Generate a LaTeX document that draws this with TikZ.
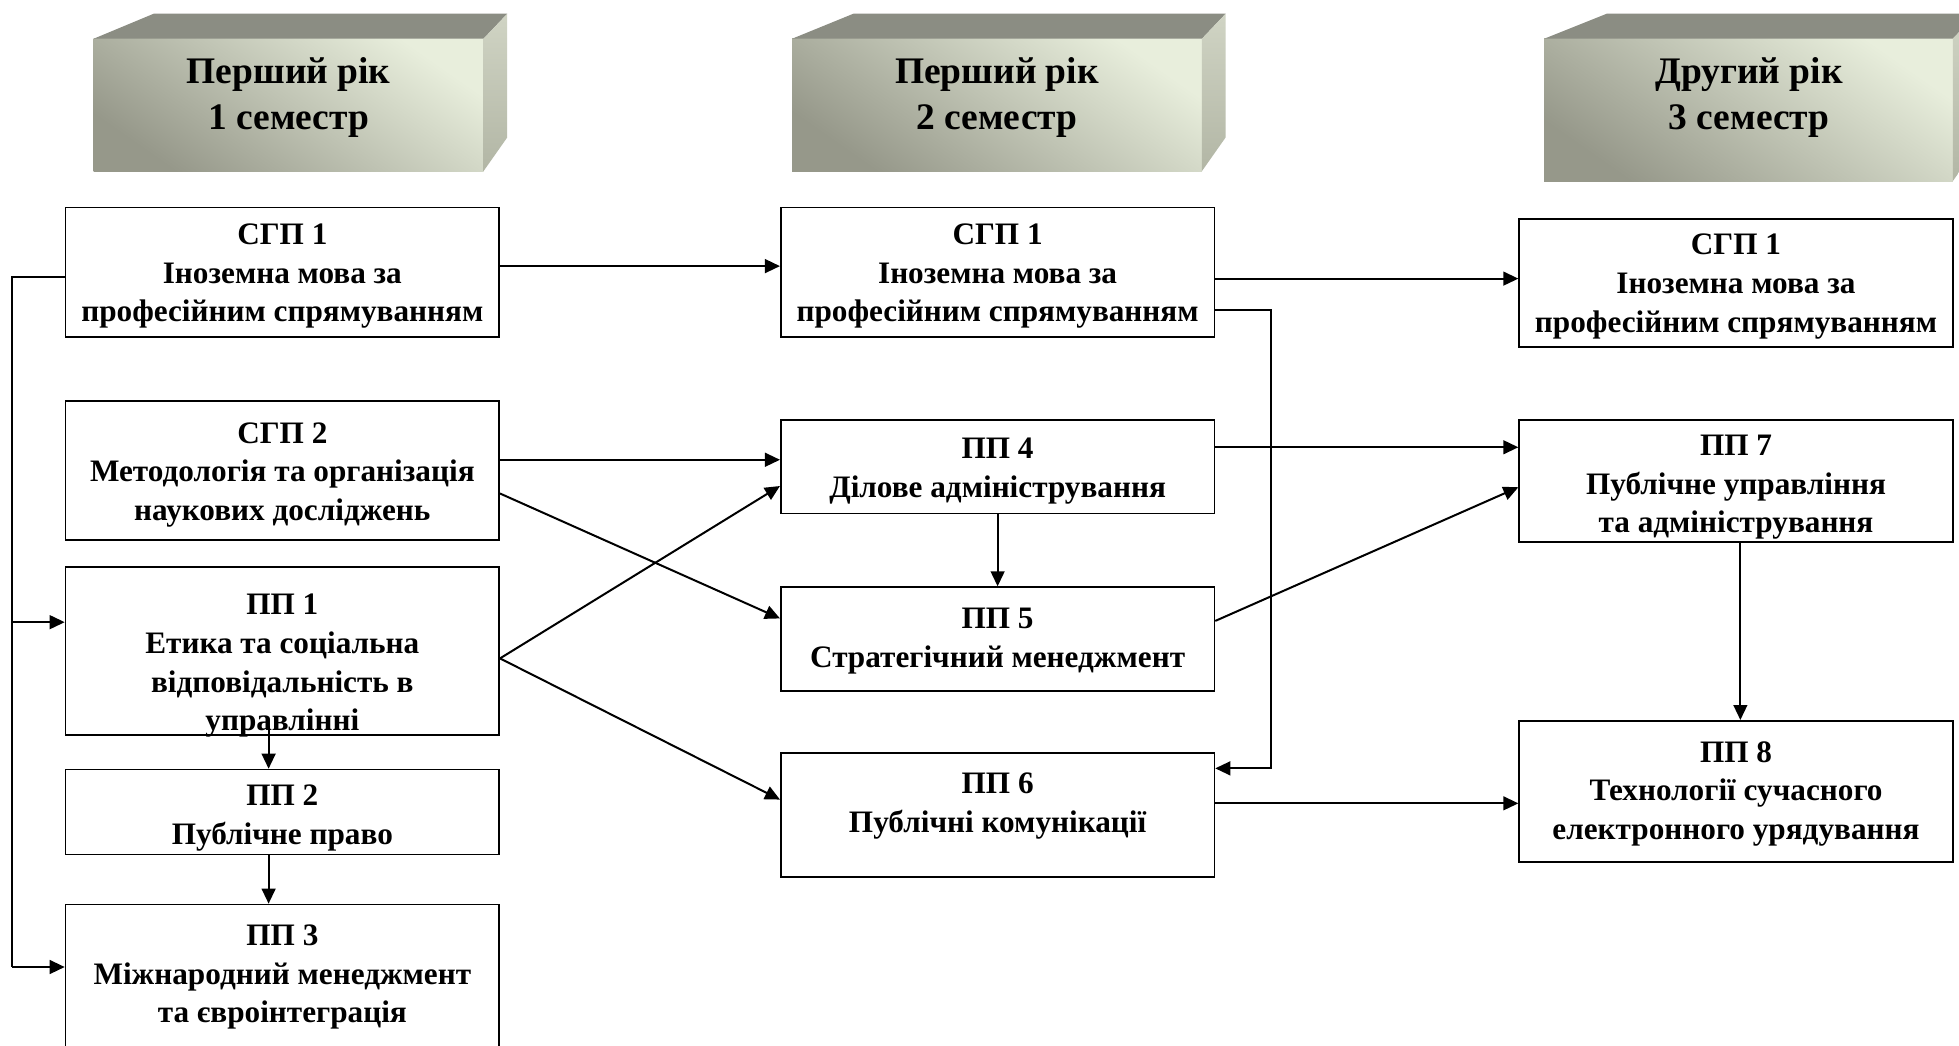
\documentclass[tikz,border=0pt]{standalone}
\usepackage{fontspec}
\setmainfont{Liberation Serif}
\usetikzlibrary{arrows.meta}
\definecolor{topface}{RGB}{139,141,131}
\definecolor{frontlight}{RGB}{232,238,220}
\definecolor{frontdark}{RGB}{150,152,138}
\definecolor{sidelight}{RGB}{208,212,196}
\definecolor{sidedark}{RGB}{178,182,165}
\newcommand{\hdrbox}[6]{%
  \shade[top color=frontlight, bottom color=frontdark, shading angle=-35] (#1,31) rectangle (#2,#5);
  \fill[topface] (#1,31) -- (#3,11) -- (#4,11) -- (#2,31) -- cycle;
  \shade[top color=sidelight, bottom color=sidedark] (#2,31) -- (#4,11) -- (#4,#6) -- (#2,#5) -- cycle;}
\begin{document}
\begin{tikzpicture}[x=1pt,y=-1pt,
  box/.style={draw, line width=1.4pt, inner sep=0pt, minimum width=347pt},
  txt/.style={font=\bfseries\fontsize{25}{31}\selectfont, align=center, inner sep=0pt},
  htxt/.style={font=\bfseries\fontsize{30}{37}\selectfont, align=center, inner sep=0pt},
  line/.style={line width=1.6pt},
  arr/.style={line width=1.6pt, -{Triangle[length=12pt,width=11pt]}}]
\useasboundingbox (0,0) rectangle (1568,837);
\fill[white] (0,0) rectangle (1568,837);

% headers
\hdrbox{75}{387}{123}{406}{137}{110}
\hdrbox{634}{962}{683}{981}{137}{110}
\hdrbox{1236}{1563}{1286}{1582}{145}{118}
\node[htxt] (h1) at (231,78) {Перший рік\\1 семестр};
\node[htxt] (h2) at (798,78) {Перший рік\\2 семестр};
\node[htxt] (h3) at (1400,78) {Другий рік\\3 семестр};

% column 1
\node[box, minimum height=104pt] (s1a) at (226,218) {};
\node[txt] (s1at) at (226,221) {СГП 1\\Іноземна мова за\\професійним спрямуванням};
\node[box, minimum height=111pt] (s2a) at (226,376.5) {};
\node[txt] (s2at) at (226,380) {СГП 2\\Методологія та організація\\наукових досліджень};
\node[box, minimum height=134pt] (p1) at (226,521) {};
\node[txt] (p1t) at (226,533) {ПП 1\\Етика та соціальна\\відповідальність в\\управлінні};
\node[box, minimum height=68pt] (p2) at (226,650) {};
\node[txt] (p2t) at (226,655) {ПП 2\\Публічне право};
\node[box, minimum height=136pt] (p3) at (226,792) {};
\node[txt] (p3t) at (226,782) {ПП 3\\Міжнародний менеджмент\\та євроінтеграція};

% column 2
\node[box, minimum height=104pt] (s1b) at (798.5,218) {};
\node[txt] (s1bt) at (798.5,221) {СГП 1\\Іноземна мова за\\професійним спрямуванням};
\node[box, minimum height=75pt] (p4) at (798.5,373.5) {};
\node[txt] (p4t) at (798.5,377) {ПП 4\\Ділове адміністрування};
\node[box, minimum height=83pt] (p5) at (798.5,511.5) {};
\node[txt] (p5t) at (798.5,513) {ПП 5\\Стратегічний менеджмент};
\node[box, minimum height=99pt] (p6) at (798.5,652.5) {};
\node[txt] (p6t) at (798.5,645) {ПП 6\\Публічні комунікації};

% column 3
\node[box, minimum height=103pt] (s1c) at (1389.5,226.5) {};
\node[txt] (s1ct) at (1389.5,229.5) {СГП 1\\Іноземна мова за\\професійним спрямуванням};
\node[box, minimum height=98pt] (p7) at (1389.5,385) {};
\node[txt] (p7t) at (1389.5,390) {ПП 7\\Публічне управління\\та адміністрування};
\node[box, minimum height=113pt] (p8) at (1389.5,633.5) {};
\node[txt] (p8t) at (1389.5,635.5) {ПП 8\\Технології сучасного\\електронного урядування};

% helper coordinates
\coordinate (busT) at (10,222);
\coordinate (busM) at (10,498);
\coordinate (busB) at (10,774);
\coordinate (h213) at (0,213);
\coordinate (h223) at (0,223);
\coordinate (h248) at (0,248);
\coordinate (h358) at (0,358);
\coordinate (h368) at (0,368);
\coordinate (h389) at (0,389);
\coordinate (h390) at (0,390);
\coordinate (h395) at (0,395);
\coordinate (h495) at (0,495);
\coordinate (h497) at (0,497);
\coordinate (h527) at (0,527);
\coordinate (h615) at (0,615);
\coordinate (h640) at (0,640);
\coordinate (h643) at (0,643);
\coordinate (v215) at (215,0);
\coordinate (v1393) at (1393,0);
\coordinate (rt) at (1017,248);
\coordinate (rb) at (1017,615);
\coordinate (p1s) at (215,581);

% connectors
\draw[line] (s1a.west |- busT) -- (busT) -- (busB);
\draw[arr] (busM) -- (busM -| p1.west);
\draw[arr] (busB) -- (busB -| p3.west);
\draw[arr] (s1a.east |- h213) -- (s1b.west |- h213);
\draw[arr] (s2a.east |- h368) -- (p4.west |- h368);
\draw[arr] (s2a.east |- h395) -- (p5.west |- h495);
\draw[arr] (p1.east |- h527) -- (p4.west |- h389);
\draw[arr] (p1.east |- h527) -- (p6.west |- h640);
\draw[arr] (p1s) -- (p2.north -| v215);
\draw[arr] (p2.south -| v215) -- (p3.north -| v215);
\draw[arr] (p4.south) -- (p5.north);
\draw[arr] (s1b.east |- h223) -- (s1c.west |- h223);
\draw[arr] (s1b.east |- h248) -- (rt) -- (rb) -- (p6.east |- rb);
\draw[arr] (p4.east |- h358) -- (p7.west |- h358);
\draw[arr] (p5.east |- h497) -- (p7.west |- h390);
\draw[arr] (p6.east |- h643) -- (p8.west |- h643);
\draw[arr] (p7.south -| v1393) -- (p8.north -| v1393);
\end{tikzpicture}
\end{document}
